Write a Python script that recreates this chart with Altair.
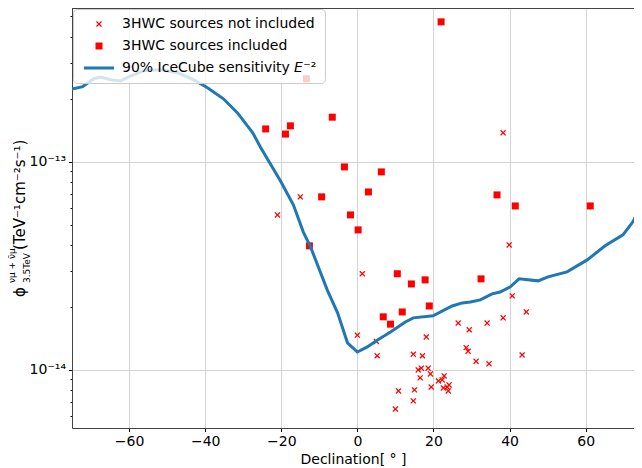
import altair as alt
import pandas as pd

# ---- data ----
line_dec = [-75.0, -72.2, -69.3, -67.5, -64.8, -62.2, -60.1, -56.2, -51.7, -47.2, -43.0, -39.4,
            -35.2, -31.5, -27.5, -25.5, -20.2, -16.8, -14.2, -12.3, -7.9, -5.2, -2.6, 0.0, 2.6,
            5.2, 8.7, 12.6, 14.7, 19.9, 24.9, 27.6, 29.7, 32.3, 35.4, 37.5, 40.2, 42.5, 47.5,
            50.1, 55.1, 60.4, 65.1, 69.8, 72.4, 75.0]
line_sens = [2.24e-13, 2.30e-13, 2.51e-13, 2.56e-13, 2.48e-13, 2.45e-13, 2.56e-13, 2.74e-13,
             2.77e-13, 2.68e-13, 2.48e-13, 2.27e-13, 2.01e-13, 1.72e-13, 1.38e-13, 1.18e-13,
             8.1e-14, 6.2e-14, 4.6e-14, 3.9e-14, 2.42e-14, 1.88e-14, 1.35e-14, 1.22e-14, 1.29e-14,
             1.39e-14, 1.52e-14, 1.70e-14, 1.78e-14, 1.82e-14, 2.03e-14, 2.10e-14, 2.12e-14,
             2.17e-14, 2.32e-14, 2.37e-14, 2.51e-14, 2.74e-14, 2.68e-14, 2.80e-14, 2.96e-14,
             3.38e-14, 3.95e-14, 4.46e-14, 5.15e-14, 6.42e-14]

incl_dec = [22.0, -13.4, -24.1, -17.6, -18.9, -6.6, -3.4, 6.3, 2.9, -9.4, 36.7, 41.5, 61.2,
            -1.8, 0.2, -12.6, 10.5, 17.8, 14.2, 32.5, 18.9, 11.8, 6.8, 8.7]
incl_flux = [4.71e-13, 2.51e-13, 1.44e-13, 1.49e-13, 1.36e-13, 1.64e-13, 9.46e-14, 8.95e-14,
             7.17e-14, 6.79e-14, 6.94e-14, 6.14e-14, 6.14e-14, 5.56e-14, 4.71e-14, 3.95e-14,
             2.90e-14, 2.71e-14, 2.59e-14, 2.74e-14, 2.03e-14, 1.90e-14, 1.80e-14, 1.66e-14]

excl_dec = [38.3, -15.0, -21.0, 1.3, 39.9, 44.4, 40.7, 26.5, 29.4, 34.1, 38.3, 18.1, 0.0, 5.0,
            5.2, 14.7, 17.1, 28.6, 29.1, 31.2, 34.6, 43.3,
            16.0, 16.8, 18.6, 19.2, 16.5, 22.8, 21.3, 22.3, 23.6, 24.1, 23.9, 22.6, 19.4, 10.8,
            15.0, 14.7, 10.0]
excl_flux = [1.38e-13, 6.79e-14, 5.56e-14, 2.90e-14, 3.99e-14, 1.90e-14, 2.27e-14, 1.68e-14,
             1.56e-14, 1.68e-14, 1.78e-14, 1.44e-14, 1.47e-14, 1.37e-14, 1.17e-14, 1.19e-14,
             1.17e-14, 1.28e-14, 1.23e-14, 1.10e-14, 1.07e-14, 1.18e-14,
             1.00e-14, 1.02e-14, 1.02e-14, 9.57e-15, 9.16e-15, 9.36e-15, 8.85e-15, 8.95e-15,
             8.28e-15, 8.47e-15, 7.93e-15, 8.19e-15, 8.28e-15, 7.93e-15, 8.02e-15, 7.10e-15,
             6.49e-15]

S_NOT = "3HWC sources not included"
S_INC = "3HWC sources included"
S_LINE = "90% IceCube sensitivity 𝘌⁻²"

x_ticks = [-60, -40, -20, 0, 20, 40, 60]
y_ticks = [6e-15, 7e-15, 8e-15, 9e-15, 1e-14, 2e-14, 3e-14, 4e-14, 5e-14, 6e-14, 7e-14,
           8e-14, 9e-14, 1e-13, 2e-13, 3e-13, 4e-13, 5e-13]
y_title_main = "(TeV⁻¹cm⁻²s⁻¹)"
y_title_phi = "ϕ"
y_title_sup = "νμ + ν̄μ"
y_title_sub = "3.5TeV"

# ---- tables ----
pts = pd.DataFrame({
    "dec": excl_dec + incl_dec,
    "flux": excl_flux + incl_flux,
    "series": [S_NOT] * len(excl_dec) + [S_INC] * len(incl_dec),
})
line_df = pd.DataFrame({"dec": line_dec, "sens": line_sens})

FONT = "DejaVu Sans"
XPATH = ("M-0.85,-0.6L-0.6,-0.85L0,-0.25L0.6,-0.85L0.85,-0.6L0.25,0L0.85,0.6L0.6,0.85"
         "L0,0.25L-0.6,0.85L-0.85,0.6L-0.25,0Z")
LPATH = "M-4.3,-0.43L4.3,-0.43L4.3,0.43L-4.3,0.43Z"

MAJOR = "datum.value == 1e-13 || datum.value == 1e-14"

W = 562
xscale = alt.Scale(domain=[-75, 72.7], nice=False, zero=False)
yscale = alt.Scale(type="log", domain=[5.26e-15, 5.49e-13], nice=False)

xaxis = alt.Axis(values=x_ticks, title="Declination[ ° ]", grid=True, tickSize=3.5,
                 labelExpr="replace(format(datum.value, 'd'), '-', '−')",
                 labelPadding=3, titlePadding=4)
yaxis = alt.Axis(values=y_ticks, title=None, grid=True,
                 labelExpr="datum.value == 1e-13 ? '10⁻¹³' : (datum.value == 1e-14 ? '10⁻¹⁴' : '')",
                 tickSize={"condition": {"test": MAJOR, "value": 3.5}, "value": 2},
                 gridOpacity={"condition": {"test": MAJOR, "value": 1}, "value": 0},
                 labelPadding=3)

dom = [S_NOT, S_INC, S_LINE]
points = alt.Chart(pts).mark_point(filled=True, size=49, opacity=1, strokeWidth=0, clip=True).encode(
    x=alt.X("dec:Q", scale=xscale, axis=xaxis),
    y=alt.Y("flux:Q", scale=yscale, axis=yaxis),
    color=alt.Color("series:N", scale=alt.Scale(domain=dom, range=["#ff0000", "#ff0000", "#1f77b4"]),
                    legend=alt.Legend(title=None)),
    shape=alt.Shape("series:N", scale=alt.Scale(domain=dom, range=[XPATH, "square", LPATH]),
                    legend=alt.Legend(title=None)),
)

line = alt.Chart(line_df).mark_line(color="#1f77b4", strokeWidth=3, clip=True).encode(
    x=alt.X("dec:Q", scale=xscale, axis=xaxis),
    y=alt.Y("sens:Q", scale=yscale, axis=yaxis),
)

one = pd.DataFrame({"k": [0]})
top_rule = alt.Chart(one).mark_rule(color="#444444", strokeWidth=1).encode(
    x=alt.value(0), x2=alt.value(W), y=alt.value(0.5))


def ytxt(txt, size, xpos, ypos):
    return alt.Chart(one).mark_text(text=txt, angle=270, align="left", baseline="middle",
                                    font=FONT, fontSize=size, color="black").encode(
        x=alt.value(xpos), y=alt.value(ypos))


chart = alt.layer(
    points, line, top_rule,
    ytxt(y_title_phi, 15, -52, 289),
    ytxt(y_title_sup, 9, -60, 275),
    ytxt(y_title_sub, 9, -45, 275),
    ytxt(y_title_main, 15, -52, 242),
).properties(
    width=W, height=420,
    padding={"left": 64, "top": 0, "right": 0, "bottom": 40},
    autosize=alt.AutoSizeParams(type="none"),
).configure(font=FONT).configure_view(stroke="transparent").configure_axis(
    labelFont=FONT, labelFontSize=14, labelColor="black", titleFont=FONT, titleFontSize=14,
    titleFontWeight="normal", titleColor="black", tickColor="black", domainColor="#444444",
    domainWidth=1, gridColor="#d4d4d4", gridWidth=1,
).configure_legend(
    orient="top-left", offset=1, padding=8, rowPadding=8,
    fillColor="rgba(255,255,255,0.8)", strokeColor="#cccccc", cornerRadius=4,
    labelFont=FONT, labelFontSize=14, labelColor="black", labelLimit=400,
    symbolOffset=11, labelOffset=16, symbolSize=49, symbolStrokeWidth=0,
)

chart.save("out.html", embed_options={"renderer": "svg", "actions": False})
